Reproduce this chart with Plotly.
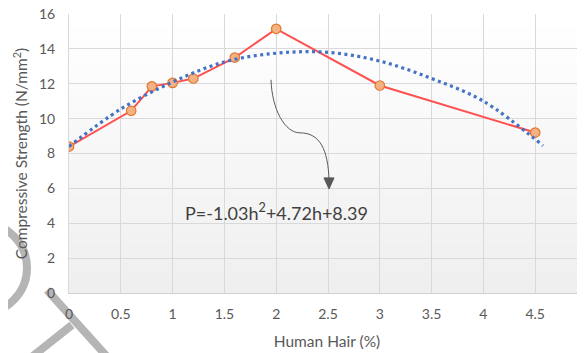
import plotly.graph_objects as go

# ---- data ----
hair_pct = [0, 0.6, 0.8, 1.0, 1.2, 1.6, 2.0, 3.0, 4.5]
strength = [8.4, 10.45, 11.85, 12.05, 12.3, 13.5, 15.15, 11.9, 9.2]

trend_x = [0, 0.5, 1.0, 1.5, 2.0, 2.5, 3.0, 3.5, 4.0, 4.575]
trend_y = [8.4, 10.55, 12.1, 13.25, 13.75, 13.8, 13.3, 12.3, 11.0, 8.45]

x_ticks = [0, 0.5, 1, 1.5, 2, 2.5, 3, 3.5, 4, 4.5]
y_ticks = [0, 2, 4, 6, 8, 10, 12, 14, 16]
equation = "P=-1.03h<sup>2</sup>+4.72h+8.39"

FONT = "Lato"
GRAY = "#595959"

fig = go.Figure()

fig.add_trace(go.Scatter(
    x=hair_pct, y=strength, mode="lines+markers",
    line=dict(color="#FF5050", width=2),
    marker=dict(size=9.5, color="#F4B183", line=dict(color="#E0782E", width=1.2)),
    showlegend=False, hoverinfo="skip",
))
fig.add_trace(go.Scatter(
    x=trend_x, y=trend_y, mode="lines",
    line=dict(color="#4472C4", width=3.2, dash="3px,3.5px", shape="spline"),
    showlegend=False, hoverinfo="skip",
))

shapes = []
# plot-area vertical gradient (white top -> light gray bottom)
n = 40
for i in range(n):
    t = i / (n - 1)
    c = int(round(0xEF + (0xFF - 0xEF) * t))
    shapes.append(dict(type="rect", xref="x", yref="paper", layer="below",
                       x0=0, x1=5, y0=i / n, y1=(i + 1) / n + 0.002,
                       fillcolor=f"rgb({c},{c},{c})", line=dict(width=0)))

# watermark strokes
wm = dict(color="rgba(150,150,150,0.7)", width=8)
shapes.append(dict(type="circle", xref="paper", yref="paper", layer="below",
                   x0=-0.2558, x1=-0.0814, y0=-0.0717, y1=0.2509, line=wm))
shapes.append(dict(type="line", xref="paper", yref="paper", layer="below",
                   x0=-0.0426, y0=0.0108, x1=0.0795, y1=-0.24, line=wm))
shapes.append(dict(type="line", xref="paper", yref="paper", layer="below",
                   x0=0.0058, y0=-0.1147, x1=-0.0795, y1=-0.24, line=wm))

# curved arrow
shapes.append(dict(type="path", xref="x", yref="y",
                   path="M1.950,12.227 C1.959,10.505 2.085,9.185 2.230,9.185 "
                        "C2.423,9.185 2.500,8.209 2.510,6.487",
                   line=dict(color="#595959", width=1)))
shapes.append(dict(type="path", xref="x", yref="y",
                   path="M2.461,6.602 L2.558,6.602 L2.510,5.970 Z",
                   fillcolor="#595959", line=dict(color="#595959", width=1)))

# the page body adds an 8px margin, so the figure is sized to fit the window
fig.update_layout(
    width=577, height=345,
    margin=dict(l=61, r=0, t=6, b=60),
    paper_bgcolor="white", plot_bgcolor="white",
    font=dict(family=FONT, color=GRAY, size=14),
    shapes=shapes,
    annotations=[
        dict(text=equation, x=2.0, y=4.65, xref="x", yref="y", showarrow=False,
             font=dict(family=FONT, size=18, color="#404040")),
        dict(text="5", x=0.9965, y=-0.082, xref="paper", yref="paper",
             showarrow=False, xanchor="left", yanchor="middle",
             font=dict(family=FONT, size=14, color=GRAY)),
    ],
)
fig.update_xaxes(
    range=[0, 516 / 103.6], tickvals=x_ticks, ticktext=[f"{v:g}" for v in x_ticks],
    showgrid=True, gridcolor="#d9d9d9", gridwidth=1, automargin=False,
    showline=True, linecolor="#d0d0d0", linewidth=1, zeroline=False,
    ticks="", ticklabelstandoff=8, ticklabeloverflow="allow",
    title=dict(text="Human Hair (%)", font=dict(size=15.5, color=GRAY), standoff=15),
)
fig.update_yaxes(
    range=[0, 16], tickvals=y_ticks, automargin=False,
    showgrid=True, gridcolor="#d9d9d9", gridwidth=1,
    showline=True, linecolor="#d9d9d9", zeroline=False,
    ticks="", ticklabelstandoff=10, ticklabeloverflow="allow",
    title=dict(text="Compressive Strength (N/mm<sup>2</sup>)", font=dict(size=15.5, color=GRAY), standoff=7),
)

fig.write_html("out.html")
